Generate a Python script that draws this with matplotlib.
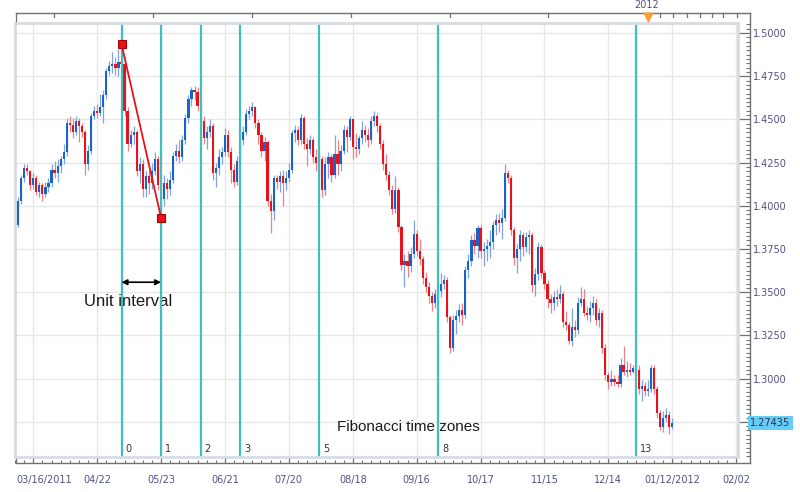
import numpy as np
import matplotlib
matplotlib.use("Agg")
import matplotlib.pyplot as plt
from matplotlib.transforms import blended_transform_factory
from matplotlib.patches import Rectangle

# ---------------- data ----------------
close = [
    1.389, 1.403, 1.416, 1.422, 1.420, 1.412, 1.416, 1.408, 1.412, 1.407,
    1.411, 1.413, 1.421, 1.419, 1.423, 1.427, 1.431, 1.448, 1.447, 1.443,
    1.449, 1.446, 1.443, 1.424, 1.432, 1.452, 1.455, 1.454, 1.457, 1.464,
    1.478, 1.481, 1.482, 1.480, 1.483, 1.482, 1.455, 1.436, 1.441, 1.443,
    1.420, 1.424, 1.410, 1.417, 1.413, 1.420, 1.427, 1.412, 1.404, 1.413,
    1.410, 1.415, 1.429, 1.432, 1.428, 1.438, 1.451, 1.462, 1.467, 1.466,
    1.458, 1.449, 1.439, 1.443, 1.446, 1.419, 1.422, 1.428, 1.431, 1.441,
    1.431, 1.421, 1.414, 1.426, 1.438, 1.443, 1.453, 1.455, 1.457, 1.448,
    1.441, 1.432, 1.437, 1.403, 1.397, 1.416, 1.414, 1.417, 1.413, 1.416,
    1.421, 1.442, 1.444, 1.438, 1.451, 1.436, 1.433, 1.438, 1.428, 1.425,
    1.427, 1.409, 1.424, 1.428, 1.418, 1.430, 1.424, 1.432, 1.444, 1.440,
    1.450, 1.434, 1.433, 1.439, 1.444, 1.441, 1.438, 1.449, 1.452, 1.446,
    1.436, 1.424, 1.418, 1.409, 1.398, 1.409, 1.3875, 1.3655, 1.368, 1.365,
    1.372, 1.3835, 1.374, 1.369, 1.358, 1.353, 1.348, 1.344, 1.349, 1.351,
    1.355, 1.357, 1.3355, 1.318, 1.334, 1.336, 1.340, 1.337, 1.363, 1.368,
    1.380, 1.377, 1.387, 1.374, 1.375, 1.377, 1.379, 1.389, 1.392, 1.390,
    1.393, 1.419, 1.416, 1.386, 1.370, 1.375, 1.383, 1.376, 1.382, 1.383,
    1.354, 1.3605, 1.376, 1.361, 1.355, 1.346, 1.344, 1.347, 1.346, 1.349,
    1.333, 1.331, 1.322, 1.330, 1.328, 1.344, 1.346, 1.338, 1.337, 1.341,
    1.344, 1.334, 1.338, 1.318, 1.302, 1.298, 1.300, 1.298, 1.297, 1.308,
    1.304, 1.305, 1.304, 1.306, 1.305, 1.294, 1.296, 1.293, 1.294, 1.306,
    1.294, 1.280, 1.272, 1.277, 1.279, 1.272, 1.27435,
]
first_open = 1.401

high = [
    1.402, 1.405, 1.418, 1.424, 1.424, 1.421, 1.419, 1.418, 1.414, 1.413,
    1.414, 1.416, 1.424, 1.426, 1.427, 1.429, 1.436, 1.451, 1.452, 1.451,
    1.452, 1.451, 1.448, 1.444, 1.435, 1.454, 1.458, 1.459, 1.465, 1.467,
    1.480, 1.484, 1.489, 1.486, 1.491, 1.4936, 1.486, 1.457, 1.444, 1.446,
    1.444, 1.428, 1.427, 1.420, 1.421, 1.425, 1.431, 1.429, 1.414, 1.418,
    1.416, 1.420, 1.431, 1.436, 1.438, 1.441, 1.453, 1.464, 1.469, 1.4695,
    1.469, 1.460, 1.452, 1.446, 1.450, 1.448, 1.425, 1.433, 1.434, 1.445,
    1.444, 1.434, 1.424, 1.429, 1.441, 1.446, 1.456, 1.458, 1.460, 1.458,
    1.450, 1.443, 1.440, 1.438, 1.407, 1.418, 1.418, 1.420, 1.421, 1.420,
    1.425, 1.444, 1.447, 1.446, 1.453, 1.452, 1.439, 1.441, 1.440, 1.433,
    1.431, 1.429, 1.428, 1.431, 1.430, 1.441, 1.438, 1.435, 1.447, 1.446,
    1.452, 1.451, 1.442, 1.441, 1.449, 1.447, 1.445, 1.452, 1.455, 1.454,
    1.448, 1.438, 1.430, 1.420, 1.412, 1.417, 1.411, 1.389, 1.372, 1.374,
    1.376, 1.392, 1.386, 1.381, 1.371, 1.362, 1.356, 1.350, 1.352, 1.356,
    1.361, 1.360, 1.359, 1.337, 1.337, 1.340, 1.343, 1.344, 1.365, 1.372,
    1.383, 1.384, 1.389, 1.389, 1.379, 1.381, 1.386, 1.391, 1.395, 1.396,
    1.398, 1.4244, 1.421, 1.418, 1.388, 1.378, 1.386, 1.385, 1.385, 1.386,
    1.385, 1.364, 1.379, 1.378, 1.363, 1.357, 1.349, 1.351, 1.352, 1.354,
    1.351, 1.339, 1.333, 1.341, 1.334, 1.347, 1.353, 1.352, 1.342, 1.345,
    1.348, 1.346, 1.341, 1.340, 1.320, 1.304, 1.305, 1.302, 1.302, 1.312,
    1.319, 1.310, 1.309, 1.308, 1.309, 1.308, 1.299, 1.298, 1.299, 1.308,
    1.308, 1.296, 1.282, 1.281, 1.283, 1.281, 1.277,
]

low = [
    1.386, 1.388, 1.401, 1.414, 1.418, 1.409, 1.410, 1.406, 1.405, 1.403,
    1.405, 1.408, 1.411, 1.416, 1.414, 1.419, 1.424, 1.429, 1.443, 1.439,
    1.441, 1.437, 1.440, 1.418, 1.421, 1.430, 1.450, 1.451, 1.452, 1.448,
    1.462, 1.476, 1.477, 1.476, 1.475, 1.478, 1.452, 1.432, 1.434, 1.436,
    1.417, 1.413, 1.405, 1.405, 1.407, 1.410, 1.418, 1.409, 1.397, 1.400,
    1.404, 1.406, 1.413, 1.426, 1.425, 1.426, 1.436, 1.448, 1.458, 1.461,
    1.455, 1.446, 1.436, 1.433, 1.440, 1.415, 1.411, 1.418, 1.424, 1.429,
    1.428, 1.413, 1.411, 1.412, 1.424, 1.435, 1.441, 1.450, 1.452, 1.445,
    1.436, 1.428, 1.426, 1.400, 1.384, 1.392, 1.410, 1.408, 1.400, 1.409,
    1.414, 1.419, 1.437, 1.435, 1.436, 1.433, 1.423, 1.430, 1.425, 1.420,
    1.418, 1.405, 1.406, 1.416, 1.414, 1.416, 1.418, 1.420, 1.430, 1.431,
    1.438, 1.427, 1.428, 1.430, 1.436, 1.437, 1.434, 1.436, 1.446, 1.443,
    1.433, 1.421, 1.415, 1.406, 1.395, 1.396, 1.385, 1.363, 1.353, 1.359,
    1.362, 1.370, 1.371, 1.366, 1.355, 1.350, 1.344, 1.339, 1.341, 1.334,
    1.347, 1.352, 1.333, 1.315, 1.316, 1.326, 1.333, 1.331, 1.335, 1.358,
    1.365, 1.372, 1.370, 1.370, 1.365, 1.368, 1.370, 1.375, 1.383, 1.385,
    1.381, 1.391, 1.413, 1.383, 1.366, 1.361, 1.368, 1.371, 1.373, 1.372,
    1.350, 1.348, 1.357, 1.358, 1.352, 1.341, 1.338, 1.340, 1.342, 1.344,
    1.330, 1.328, 1.320, 1.319, 1.324, 1.326, 1.342, 1.336, 1.334, 1.333,
    1.337, 1.331, 1.330, 1.315, 1.299, 1.294, 1.296, 1.296, 1.295, 1.295,
    1.302, 1.301, 1.302, 1.303, 1.302, 1.291, 1.287, 1.290, 1.290, 1.292,
    1.291, 1.277, 1.270, 1.269, 1.275, 1.268, 1.271,
]

# date axis (trading-day index)
date_tick_idx = [6, 27, 48, 69, 90, 111, 132, 153, 174, 195, 216, 237]
date_tick_labels = ["", "04/22", "05/23", "06/21", "07/20", "08/18",
                    "09/16", "10/17", "11/15", "12/14", "01/12/2012", "02/02"]
first_date_label = "03/16/2011"
top_tick_idx = [12.9, 45.4, 77.9, 110.3, 142.8, 175.3, 212.0, 216.3,
                220.9, 225.2, 229.1, 232.7, 237.3]
year_marker_idx = 208.1
year_marker_label = "2012"

# Fibonacci time zones
fib_start = 35
fib_unit = 13
fib_numbers = [0, 1, 2, 3, 5, 8, 13]
swing_x = [35, 48]
swing_y = [1.4936, 1.3932]
last_price = 1.27435

price_major = [1.275, 1.300, 1.325, 1.350, 1.375, 1.400, 1.425, 1.450, 1.475, 1.500]
price_labels = ["", "1.3000", "1.3250", "1.3500", "1.3750", "1.4000",
                "1.4250", "1.4500", "1.4750", "1.5000"]

# ---------------- styling ----------------
UP, DOWN = "#1663c9", "#e8121c"
UP_W, DOWN_W = "#7ea3e3", "#f27f82"
CYAN = "#3ec0c0"
AXCOL = "#707070"
LABCOL = "#4f5088"
FRAME = "#d6dae3"

W, H = 800, 492
fig = plt.figure(figsize=(W / 100, H / 100), dpi=100)
fig.patch.set_facecolor("white")
L, R, T, B = 15, 738, 23, 457
ax = fig.add_axes([L / W, (H - B) / H, (R - L) / W, (B - T) / H])
ax.set_facecolor("white")

n = min(len(close), len(high), len(low))
x = np.arange(n)
c = np.array(close[:n])
o = np.concatenate([[first_open], c[:-1]])
h = np.array(high[:n])
lo = np.array(low[:n])
up = c >= o

xmin, xmax = 0.4, 237.6
ymin, ymax = 1.25465, 1.50581
ax.set_xlim(xmin, xmax)
ax.set_ylim(ymin, ymax)

# grid
for xv in date_tick_idx:
    ax.axvline(xv, color="#e6e7eb", lw=1.0, zorder=0)
for yv in price_major:
    ax.axhline(yv, color="#e6e7eb", lw=1.0, zorder=0)

# candles
ax.vlines(x[up], lo[up], h[up], color=UP_W, lw=0.9, zorder=2)
ax.vlines(x[~up], lo[~up], h[~up], color=DOWN_W, lw=0.9, zorder=2)
body_lo = np.minimum(o, c)
body_h = np.maximum(np.abs(c - o), 0.0006)
ax.bar(x[up], body_h[up], bottom=body_lo[up], width=0.72, color=UP, lw=0, zorder=3)
ax.bar(x[~up], body_h[~up], bottom=body_lo[~up], width=0.72, color=DOWN, lw=0, zorder=3)

# fibonacci time zones
tr_lab = blended_transform_factory(ax.transData, ax.transAxes)
for k in fib_numbers:
    xv = fib_start + k * fib_unit
    ax.axvline(xv, color=CYAN, lw=1.6, zorder=4)
    ax.text(xv + 1.3, 0.019, str(k), transform=tr_lab, fontsize=7,
            color="#333333", va="center", ha="left", family="DejaVu Sans")

# swing line
ax.plot(swing_x, swing_y, color="#e8121c", lw=1.3, zorder=5,
        marker="s", ms=5.5, mfc="#e8121c", mec="#a00000", mew=0.8)

# unit interval arrow
ax.annotate("", xy=(fib_start, 1.3558), xytext=(fib_start + fib_unit, 1.3558),
            arrowprops=dict(arrowstyle="<|-|>", color="black", lw=1.2,
                            mutation_scale=8, shrinkA=0, shrinkB=0), zorder=6)
ax.text(37.3, 1.3448, "Unit interval", fontsize=12,
        family="Liberation Sans", color="#1a1a1a", ha="center", va="center")
ax.text(129.4, 1.2721, "Fibonacci time zones", fontsize=11,
        family="Liberation Sans", color="#1a1a1a", ha="center", va="center")

# inner frame
ax.add_patch(Rectangle((0, 0), 1, 1, transform=ax.transAxes, fill=False,
                       ec=FRAME, lw=2.0, clip_on=False, zorder=7))

# outer axis lines
px_y = (ymax - ymin) / (B - T)
px_x = (xmax - xmin) / (R - L)
ax.spines["left"].set_visible(False)
ax.spines["bottom"].set_position(("outward", 6 * 0.72))
ax.spines["right"].set_position(("outward", 12 * 0.72))
ax.spines["top"].set_position(("outward", 10 * 0.72))
for s in ["bottom", "right", "top"]:
    ax.spines[s].set_color(AXCOL)
    ax.spines[s].set_linewidth(1.0)
ax.spines["bottom"].set_bounds(xmin, xmax + 12 * px_x)
ax.spines["top"].set_bounds(xmin, xmax + 12 * px_x)
ax.spines["right"].set_bounds(ymin - 6 * px_y, ymax + 10 * px_y)

# bottom ticks
ax.set_xticks(date_tick_idx)
ax.set_xticklabels(date_tick_labels)
ax.set_xticks(np.arange(0, 238, 3), minor=True)
ax.tick_params(axis="x", which="major", direction="in", length=4.5, width=0.9,
               color=AXCOL, labelsize=7, labelcolor=LABCOL, pad=8.5,
               top=False, bottom=True)
ax.tick_params(axis="x", which="minor", direction="in", length=2.2, width=0.8,
               color=AXCOL, top=False, bottom=True)
ax.text(xmin, -0.0525, first_date_label, transform=tr_lab, fontsize=7,
        color=LABCOL, ha="left", va="center")

# right ticks
ax.yaxis.tick_right()
ax.set_yticks(price_major)
ax.set_yticklabels(price_labels)
ax.set_yticks(np.arange(1.2550, 1.5060, 0.0025), minor=True)
ax.tick_params(axis="y", which="major", direction="in", length=8.6, width=0.9,
               color=AXCOL, labelsize=7, labelcolor=LABCOL, pad=2,
               left=False, right=True)
ax.tick_params(axis="y", which="minor", direction="in", length=3.0, width=0.8,
               color=AXCOL, left=False, right=True)

# last price tag
ax.annotate(f"{last_price:.5f}", xy=(1.0, last_price),
            xycoords=("axes fraction", "data"),
            xytext=(12 * 0.72, 0), textcoords="offset points",
            fontsize=7, color="#2b3550", ha="left", va="center",
            bbox=dict(boxstyle="square,pad=0.25", fc="#66cdf6", ec="none"))

# top axis ticks and year marker
ttop = blended_transform_factory(ax.transData, ax.transAxes)
top_y = 1 + 10 / (B - T)
for tv in top_tick_idx:
    ax.plot([tv, tv], [top_y, top_y - 3.5 / (B - T)], color=AXCOL, lw=0.9,
            transform=ttop, clip_on=False)
ax.plot([xmin, xmin], [top_y, 1.0], color=AXCOL, lw=0.9, transform=ttop, clip_on=False)
ax.plot([xmin, xmin], [0.0, -6 / (B - T)], color=AXCOL, lw=0.9, transform=ttop, clip_on=False)
ax.scatter([year_marker_idx], [1 + 6.5 / (B - T)], marker="v", s=38,
           color="#f5a033", transform=ttop, clip_on=False, zorder=8)
ax.text(year_marker_idx - 0.5, 1 + 18 / (B - T), year_marker_label, transform=ttop,
        fontsize=7, color=LABCOL, ha="center", va="center")

fig.savefig("out.png", dpi=100, facecolor="white")
